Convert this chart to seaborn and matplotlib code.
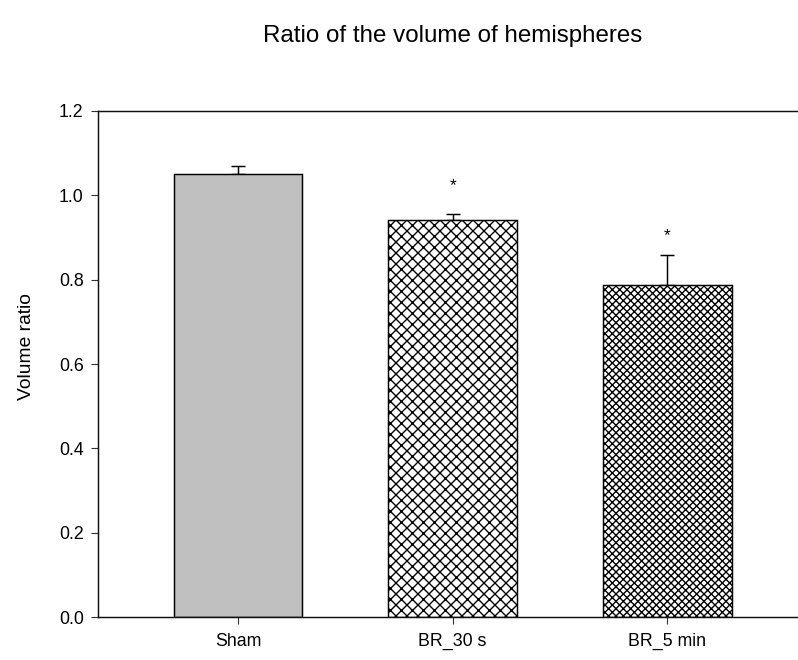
import matplotlib
matplotlib.use("Agg")
import matplotlib.pyplot as plt
import seaborn as sns
import pandas as pd

# Group means, upper SEM and significance marks
groups = ["Sham", "BR_30 s", "BR_5 min"]
ratios = [1.050, 0.940, 0.787]
sem = [0.018, 0.016, 0.070]
marks = ["", "*", "*"]
star_y = [None, 1.022, 0.905]
fills = ["#c0c0c0", "white", "white"]
hatches = ["", "xxxx", "xxxxxx"]
yticks = [0.0, 0.2, 0.4, 0.6, 0.8, 1.0, 1.2]

sns.set_style("ticks")
plt.rcParams["font.family"] = ["Liberation Sans", "DejaVu Sans"]
plt.rcParams["hatch.linewidth"] = 0.75
plt.rcParams["text.color"] = "black"
plt.rcParams["axes.labelcolor"] = "black"
plt.rcParams["xtick.color"] = "black"
plt.rcParams["ytick.color"] = "black"

DPI = 132
fig = plt.figure(figsize=(798.2 / DPI, 660.2 / DPI), dpi=DPI)
ax = fig.add_axes([0.1228, 0.0652, 0.8885, 0.7667])

df = pd.DataFrame({"group": groups, "ratio": ratios})
sns.barplot(data=df, x="group", y="ratio", hue="group", palette=fills,
            legend=False, width=0.6, edgecolor="black", linewidth=0.8,
            errorbar=None, ax=ax, saturation=1)

for bar, h, c in zip(ax.patches, hatches, fills):
    bar.set_hatch(h)
    bar.set_facecolor(c)
    bar.set_edgecolor("black")
    bar.set_zorder(2)

ax.errorbar(range(len(groups)), ratios, yerr=[[0] * len(sem), sem],
            fmt="none", ecolor="black", elinewidth=0.8, capsize=3.8,
            capthick=0.8, zorder=1)

for i, (m, y) in enumerate(zip(marks, star_y)):
    if m:
        ax.text(i, y, m, ha="center", va="center", fontsize=9.5)

ax.set_xlim(-0.652, 2.652)
ax.set_ylim(0, 1.2)
ax.set_yticks(yticks)
ax.set_yticklabels([f"{t:.1f}" for t in yticks])
ax.tick_params(axis="both", labelsize=9.7, length=3.8, width=0.6,
               direction="out", color="#333333", pad=4)
ax.tick_params(axis="x", pad=5)
ax.set_xlabel("")
ax.set_ylabel("Volume ratio", fontsize=10.5)
ax.yaxis.set_label_coords(-0.0885, 0.535)
for side in ["top", "bottom", "left"]:
    ax.spines[side].set_visible(True)
    ax.spines[side].set_linewidth(0.8)
    ax.spines[side].set_color("#111111")
ax.spines["right"].set_visible(False)

ax.set_title("Ratio of the volume of hemispheres", fontsize=13.2, pad=37.5)

fig.savefig("out.png", dpi=DPI)
